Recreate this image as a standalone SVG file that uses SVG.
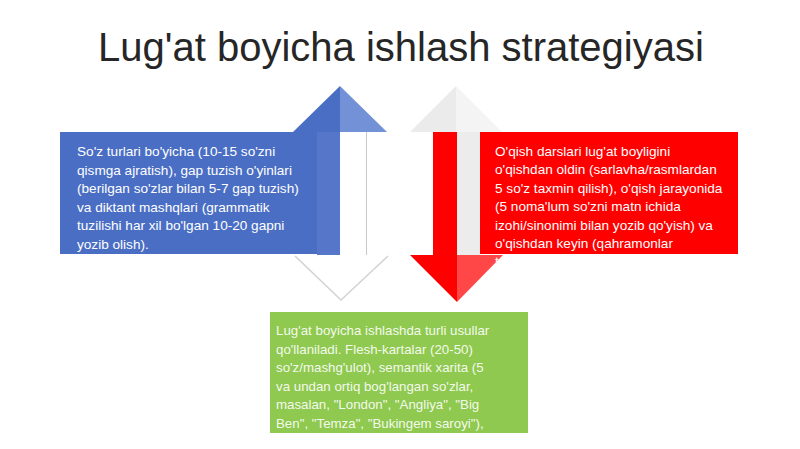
<svg xmlns="http://www.w3.org/2000/svg" width="800" height="449" viewBox="0 0 800 449">
<style>
.t{font-family:"Liberation Sans",Arial,sans-serif;fill:#fff;font-size:13.6px}
.g{font-size:13.3px;fill-opacity:0.92}
.title{font-family:"Liberation Sans",Arial,sans-serif;font-size:40px;fill:#262626}
</style>
<rect width="800" height="449" fill="#fff"/>
<g id="title"><text class="title" x="401" y="61" text-anchor="middle">Lug'at boyicha ishlash strategiyasi</text></g>
<g id="connectors">
  <g id="arrow-up">
    <polygon points="340,86 293,132 340,132" fill="#4a6ec4"/>
    <polygon points="340,86 387,132 340,132" fill="#7391d6"/>
    <rect x="317" y="132" width="23" height="123" fill="#5677c9"/>
    <line x1="366.5" y1="132" x2="366.5" y2="255" stroke="#c8c8c8" stroke-width="1"/>
    <polyline points="295,256 341,300 388,256" fill="#fff" stroke="#d2d2d2" stroke-width="1.5"/>
  </g>
  <g id="arrow-down">
    <polygon points="456,86 410,132 456,132" fill="#ebebeb"/>
    <polygon points="456,86 502,132 456,132" fill="#f4f4f4"/>
    <rect x="433" y="132" width="24" height="123" fill="#ff0000"/>
    <rect x="457" y="132" width="23" height="123" fill="#ececec"/>
    <polygon points="410,255 457,302 457,255" fill="#ff0000"/>
    <polygon points="457,255 503,255 457,302" fill="#ff4747"/>
  </g>
</g>
<g id="node-blue">
  <rect x="60" y="132" width="257" height="122" fill="#4a6ec4"/>
  <text class="t" x="77" y="156">So'z turlari bo'yicha (10-15 so'zni</text>
  <text class="t" x="77" y="174.6">qismga ajratish), gap tuzish o'yinlari</text>
  <text class="t" x="77" y="193.2">(berilgan so'zlar bilan 5-7 gap tuzish)</text>
  <text class="t" x="77" y="211.8">va diktant mashqlari (grammatik</text>
  <text class="t" x="77" y="230.4">tuzilishi har xil bo'lgan 10-20 gapni</text>
  <text class="t" x="77" y="249">yozib olish).</text>
</g>
<g id="node-red">
  <rect x="480" y="132" width="258" height="122" fill="#ff0000"/>
  <text class="t" x="495" y="156">O'qish darslari lug'at boyligini</text>
  <text class="t" x="495" y="174.4">o'qishdan oldin (sarlavha/rasmlardan</text>
  <text class="t" x="495" y="192.8">5 so'z taxmin qilish), o'qish jarayonida</text>
  <text class="t" x="495" y="211.2">(5 noma'lum so'zni matn ichida</text>
  <text class="t" x="495" y="229.6">izohi/sinonimi bilan yozib qo'yish) va</text>
  <text class="t" x="495" y="248">o'qishdan keyin (qahramonlar</text>
  <text class="t" x="495" y="266.4">t</text>
</g>
<g id="node-green">
  <rect x="270" y="312" width="258" height="121" fill="#8fc950"/>
  <text class="t g" x="276" y="335">Lug'at boyicha ishlashda turli usullar</text>
  <text class="t g" x="276" y="353.5">qo'llaniladi. Flesh-kartalar (20-50)</text>
  <text class="t g" x="276" y="372">so'z/mashg'ulot), semantik xarita (5</text>
  <text class="t g" x="276" y="390.5">va undan ortiq bog'langan so'zlar,</text>
  <text class="t g" x="276" y="409">masalan, "London", "Angliya", "Big</text>
  <text class="t g" x="276" y="427.5">Ben", "Temza", "Bukingem saroyi"),</text>
</g>
</svg>
